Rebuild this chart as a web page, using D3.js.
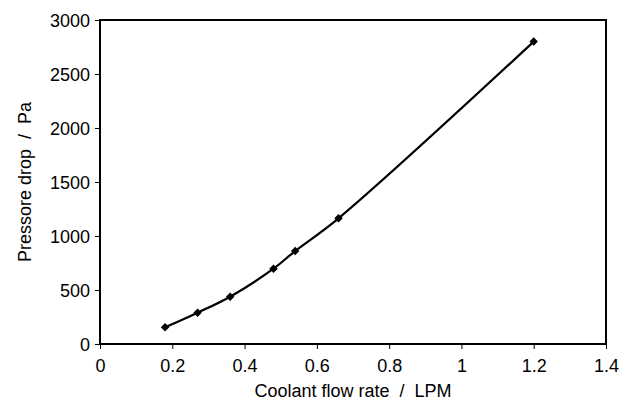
<!DOCTYPE html>
<html>
<head>
<meta charset="utf-8">
<script src="https://cdn.jsdelivr.net/npm/d3@7"></script>
<style>
  body { margin: 0; background: #fff; }
  svg { display: block; font-family: "Liberation Sans", Arial, sans-serif; }
  text { white-space: pre; }
</style>
</head>
<body>
<svg id="chart"></svg>
<script>
const width = 630;
const height = 403;

// data
const flowRate = [0.18, 0.27, 0.36, 0.48, 0.54, 0.66, 1.2];
const pressureDrop = [155, 290, 438, 697, 861, 1164, 2800];
const xTicks = [0, 0.2, 0.4, 0.6, 0.8, 1, 1.2, 1.4];
const yTicks = [0, 500, 1000, 1500, 2000, 2500, 3000];
const xTitle = "Coolant flow rate  /  LPM";
const yTitle = "Pressore drop  /  Pa";

const margin = {top: 20, right: 24, bottom: 59, left: 100};
const svg = d3.select("#chart").attr("width", width).attr("height", height);

const x = d3.scaleLinear().domain([0, 1.4]).range([margin.left, width - margin.right]);
const y = d3.scaleLinear().domain([0, 3000]).range([height - margin.bottom, margin.top]);

const points = flowRate.map((d, i) => ({x: d, y: pressureDrop[i]}));

// axes
const xAxis = svg.append("g")
  .attr("transform", `translate(0,${height - margin.bottom})`)
  .call(d3.axisBottom(x).tickValues(xTicks).tickFormat(d3.format("")).tickSize(5).tickPadding(10));
const yAxis = svg.append("g")
  .attr("transform", `translate(${margin.left},0)`)
  .call(d3.axisLeft(y).tickValues(yTicks).tickFormat(d3.format("")).tickSize(5).tickPadding(5));

[xAxis, yAxis].forEach(a => {
  a.select(".domain").remove();
  a.selectAll("line").attr("stroke", "#000").attr("stroke-width", 1);
  a.selectAll("text").attr("fill", "#000").style("font-size", "18px").style("font-family", "Liberation Sans, Arial, sans-serif");
});
yAxis.selectAll("text").attr("dy", "0.36em");

// plot frame
svg.append("rect")
  .attr("x", x(0)).attr("y", y(3000))
  .attr("width", x(1.4) - x(0)).attr("height", y(0) - y(3000))
  .attr("fill", "none").attr("stroke", "#000").attr("stroke-width", 2);

// smoothed line
const line = d3.line().x(d => x(d.x)).y(d => y(d.y)).curve(d3.curveCatmullRom.alpha(0.5));
svg.append("path").datum(points)
  .attr("d", line)
  .attr("fill", "none").attr("stroke", "#000").attr("stroke-width", 2.2);

// diamond markers
svg.selectAll(".marker").data(points).enter().append("path")
  .attr("class", "marker")
  .attr("transform", d => `translate(${x(d.x)},${y(d.y)}) rotate(45)`)
  .attr("d", d3.symbol().type(d3.symbolSquare).size(36))
  .attr("fill", "#000");

// titles
svg.append("text")
  .attr("x", (x(0) + x(1.4)) / 2).attr("y", 397)
  .attr("text-anchor", "middle").style("font-size", "18px")
  .text(xTitle);
svg.append("text")
  .attr("transform", `translate(31,${(y(0) + y(3000)) / 2}) rotate(-90)`)
  .attr("text-anchor", "middle").style("font-size", "18px")
  .text(yTitle);
</script>
</body>
</html>
